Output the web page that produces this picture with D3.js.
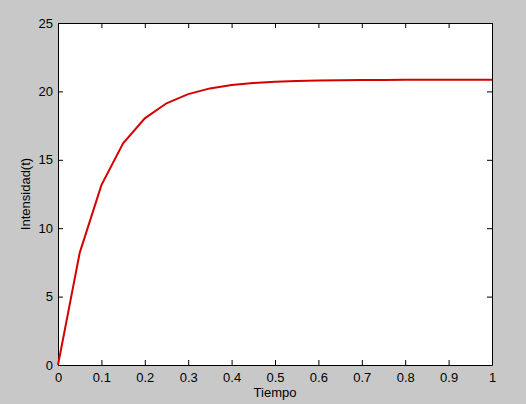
<!DOCTYPE html>
<html>
<head>
<meta charset="utf-8">
<script src="https://cdn.jsdelivr.net/npm/d3@7"></script>
<style>
  body { margin: 0; background: #c8c8c8; }
  svg { display: block; }
  text { font-family: "Liberation Sans", Arial, sans-serif; }
</style>
</head>
<body>
<svg width="526" height="404"></svg>
<script>
const tiempo = [0, 0.05, 0.1, 0.15, 0.2, 0.25, 0.3, 0.35, 0.4, 0.45, 0.5,
  0.55, 0.6, 0.65, 0.7, 0.75, 0.8, 0.85, 0.9, 0.95, 1];
const intensidad = [0, 8.2, 13.15, 16.2, 18.03, 19.13, 19.8, 20.22, 20.47, 20.62, 20.7,
  20.76, 20.8, 20.82, 20.83, 20.84, 20.85, 20.85, 20.85, 20.85, 20.85];
const xTicks = [0, 0.1, 0.2, 0.3, 0.4, 0.5, 0.6, 0.7, 0.8, 0.9, 1];
const yTicks = [0, 5, 10, 15, 20, 25];

const svg = d3.select("svg");
const margin = { top: 23, right: 34, bottom: 39, left: 58 };
const width = 526 - margin.left - margin.right;
const height = 404 - margin.top - margin.bottom;

const x = d3.scaleLinear().domain([0, 1]).range([0, width]);
const y = d3.scaleLinear().domain([0, 25]).range([height, 0]);

const g = svg.append("g")
    .attr("transform", `translate(${margin.left}, ${margin.top})`);

g.append("rect")
    .attr("width", width)
    .attr("height", height)
    .attr("fill", "#fff");

const fmt = d => d3.format("~g")(d);

// bottom and left axes with labels, inward ticks
g.append("g")
    .attr("transform", `translate(0, ${height})`)
    .call(d3.axisBottom(x).tickValues(xTicks).tickFormat(fmt).tickSizeInner(-5).tickSizeOuter(0).tickPadding(8))
    .call(a => a.selectAll("text").attr("font-size", 13).attr("fill", "#000").attr("font-family", "Liberation Sans, Arial, sans-serif"));

g.append("g")
    .call(d3.axisLeft(y).tickValues(yTicks).tickFormat(fmt).tickSizeInner(-5).tickSizeOuter(0).tickPadding(5))
    .call(a => a.selectAll("text").attr("font-size", 13).attr("fill", "#000").attr("font-family", "Liberation Sans, Arial, sans-serif"));

// top and right mirror axes
g.append("g")
    .call(d3.axisTop(x).tickValues(xTicks).tickFormat("").tickSizeInner(-5).tickSizeOuter(0));

g.append("g")
    .attr("transform", `translate(${width}, 0)`)
    .call(d3.axisRight(y).tickValues(yTicks).tickFormat("").tickSizeInner(-5).tickSizeOuter(0));

g.selectAll(".domain, .tick line").attr("stroke", "#000");

const line = d3.line()
    .x((d, i) => x(tiempo[i]))
    .y(d => y(d));

g.append("path")
    .datum(intensidad)
    .attr("fill", "none")
    .attr("stroke", "#d40000")
    .attr("stroke-width", 2)
    .attr("d", line);

svg.append("text")
    .attr("x", margin.left + width / 2)
    .attr("y", 397)
    .attr("text-anchor", "middle")
    .attr("font-size", 13)
    .text("Tiempo");

svg.append("text")
    .attr("transform", `translate(30, ${margin.top + height / 2}) rotate(-90)`)
    .attr("text-anchor", "middle")
    .attr("font-size", 13)
    .text("Intensidad(t)");
</script>
</body>
</html>
